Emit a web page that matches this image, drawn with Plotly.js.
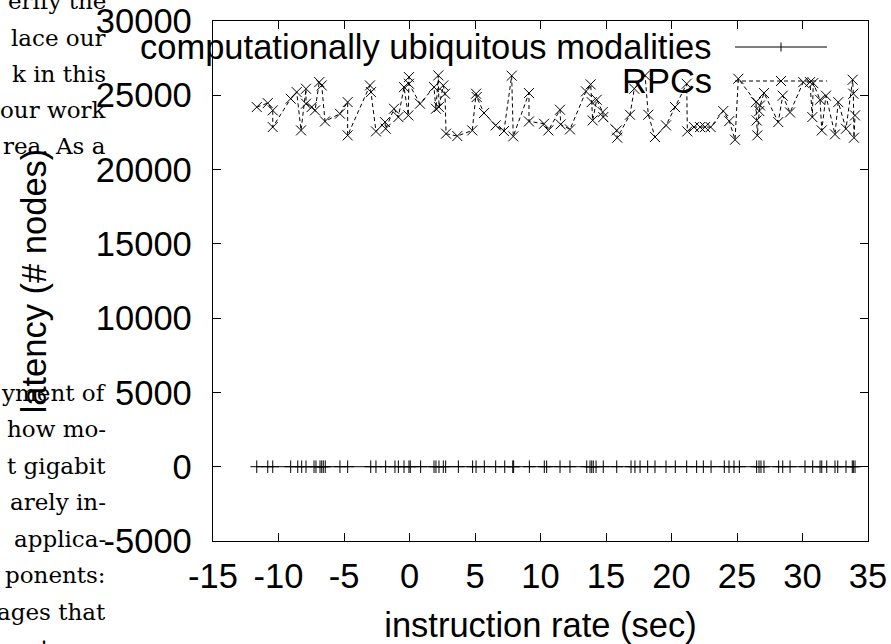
<!DOCTYPE html>
<html>
<head>
<meta charset="utf-8">
<script src="https://cdn.plot.ly/plotly-3.0.1.min.js"></script>
<style>
html,body{margin:0;padding:0;background:#fff;overflow:hidden;}
#chart{width:891px;height:644px;}
</style>
</head>
<body>
<div id="chart"></div>
<script>
// ---- data ----
const seriesNames = ["computationally ubiquitous modalities", "RPCs"];

const modalitiesX = [-11.66,-10.82,-10.44,-9.07,-8.53,-8.23,-7.90,-7.29,-7.14,-6.83,-6.70,-6.58,-6.43,-5.31,-4.72,
  -2.96,-2.56,-1.82,-1.11,-0.85,-0.42,-0.04,0.06,0.85,1.87,2.02,2.25,2.58,2.76,3.73,4.82,5.08,5.71,6.58,7.27,7.88,7.95,
  9.15,10.29,10.47,11.49,12.25,13.53,13.78,13.91,14.03,14.24,14.79,15.82,16.91,17.21,17.60,18.18,18.74,19.58,20.29,
  21.16,21.92,22.43,23.02,24.03,24.39,24.77,25.18,26.50,26.68,26.83,27.06,28.18,28.49,29.05,30.19,30.78,31.34,31.47,
  31.85,32.48,32.69,33.32,33.80,33.88,34.01];
const modalitiesY = [0,0,0,0,0,0,0,0,0,0,0,0,0,0,0,0,0,0,0,0,0,0,0,0,0,0,0,0,0,0,0,0,0,0,0,0,0,0,0,0,0,0,0,0,0,0,0,0,0,0,
  0,0,0,0,0,0,0,0,0,0,0,0,0,0,0,0,0,0,0,0,0,0,0,0,0,0,0,0,0,0,0,0];

const rpcX = [-11.66,-10.82,-10.44,-10.44,-9.07,-8.61,-8.28,-7.90,-7.90,-7.47,-7.21,-6.89,-6.70,-6.45,-5.31,-4.72,-4.72,
  -3.02,-2.94,-2.56,-1.87,-1.82,-1.18,-0.85,-0.42,-0.09,-0.04,-0.04,0.80,1.87,2.02,2.20,2.25,2.58,2.71,2.79,3.65,4.79,
  5.08,5.13,5.69,6.58,7.21,7.80,7.92,9.12,9.12,10.27,10.60,11.49,11.54,12.25,13.47,13.83,13.91,13.98,14.29,14.75,14.79,
  15.82,15.86,16.83,17.16,17.98,18.23,18.74,19.58,20.27,21.16,21.21,21.72,22.18,22.56,22.99,23.95,24.41,24.85,25.10,
  26.45,26.50,26.55,26.70,26.76,27.06,28.15,28.49,29.05,30.06,30.57,30.75,30.82,31.34,31.47,31.79,32.48,32.73,33.32,
  33.83,33.88,33.93,34.01];
const rpcY = [24206,24474,23983,22860,24770,25213,22636,25440,24433,24206,23983,25887,25663,23241,23760,24541,22300,
  25663,25213,22569,23196,22748,24094,23533,25551,23646,26224,25775,24433,25551,24094,26337,24206,25663,25105,22415,22255,22636,
  25105,24882,23804,22974,22593,26314,22233,25150,23241,23084,22636,24027,23040,22703,25262,25734,24541,23308,24698,23871,23533,
  22636,22143,23690,25440,26337,23690,22191,22974,24206,25775,22569,22860,22860,22860,22860,23938,23263,22008,26112,
  24541,23308,22300,23938,24318,25150,23196,24970,23846,25887,25887,23533,25820,24698,22636,24970,22370,24541,22748,
  26045,25105,22143,23646];

const xTicks = [-15,-10,-5,0,5,10,15,20,25,30,35];
const yTicks = [-5000,0,5000,10000,15000,20000,25000,30000];

// background page text (partial words of the surrounding paper)
const pageTextTop = ["erify the","lace our","k in this","our work","rea. As a"];
const pageTextBottom = ["yment of","how mo-","t gigabit","arely in-","applica-","ponents:","ages that","ents un-"];

// ---- layout helpers ----
const W = 891, H = 644;
const L = 213, R = 868, T = 21, B = 541;
const px2paperX = px => (px - L) / (R - L);
const px2paperY = py => (B - py) / (B - T);

const FONT = "Liberation Sans, Arial, Helvetica, sans-serif";
const SERIF = "DejaVu Serif, serif";
const FS = 34.5;

const traces = [
  {
    x: modalitiesX, y: modalitiesY, name: seriesNames[0], type: "scatter", mode: "lines+markers",
    line: {color: "#000", width: 1},
    marker: {symbol: "cross-thin", size: 9, color: "#000", line: {color: "#000", width: 1}},
    cliponaxis: true
  },
  {
    x: rpcX, y: rpcY, name: seriesNames[1], type: "scatter", mode: "lines+markers",
    line: {color: "#000", width: 1, dash: "4px,3px"},
    marker: {symbol: "x-thin", size: 10, color: "#000", line: {color: "#000", width: 1}},
    cliponaxis: true
  }
];

const annotations = [];
const topBase = [16, 53, 89, 125, 161];
pageTextTop.forEach((t, i) => annotations.push({
  xref: "paper", yref: "paper", x: px2paperX(108), y: px2paperY(topBase[i]),
  xanchor: "right", yanchor: "bottom", text: t, showarrow: false,
  font: {family: SERIF, size: 23, color: "#000"}
}));
const botBase = [408, 444, 481, 517, 554, 590, 627, 663];
pageTextBottom.forEach((t, i) => annotations.push({
  xref: "paper", yref: "paper", x: px2paperX(108), y: px2paperY(botBase[i]),
  xanchor: "right", yanchor: "bottom", text: t, showarrow: false,
  font: {family: SERIF, size: 23, color: "#000"}
}));

// legend (gnuplot style: text right-aligned, sample to the right)
const legY = [47, 81];
seriesNames.forEach((n, i) => annotations.push({
  xref: "paper", yref: "paper", x: px2paperX(714), y: px2paperY(legY[i]),
  xanchor: "right", yanchor: "middle", text: n, showarrow: false,
  font: {family: FONT, size: FS, color: "#000"}
}));

const shapes = [
  {type: "line", xref: "paper", yref: "paper", x0: px2paperX(735), x1: px2paperX(827),
   y0: px2paperY(legY[0]), y1: px2paperY(legY[0]), line: {color: "#000", width: 1}},
  {type: "line", xref: "paper", yref: "paper", x0: px2paperX(781), x1: px2paperX(781),
   y0: px2paperY(legY[0] - 4.5), y1: px2paperY(legY[0] + 4.5), line: {color: "#000", width: 1}},
  {type: "line", xref: "paper", yref: "paper", x0: px2paperX(735), x1: px2paperX(827),
   y0: px2paperY(legY[1]), y1: px2paperY(legY[1]), line: {color: "#000", width: 1, dash: "4px,3px"}},
  {type: "line", xref: "paper", yref: "paper", x0: px2paperX(776), x1: px2paperX(786),
   y0: px2paperY(legY[1] - 5), y1: px2paperY(legY[1] + 5), line: {color: "#000", width: 1}},
  {type: "line", xref: "paper", yref: "paper", x0: px2paperX(776), x1: px2paperX(786),
   y0: px2paperY(legY[1] + 5), y1: px2paperY(legY[1] - 5), line: {color: "#000", width: 1}}
];

const axisCommon = {
  showline: true, linecolor: "#000", linewidth: 1.3, mirror: "ticks",
  ticks: "inside", ticklen: 8, tickwidth: 1, tickcolor: "#000",
  showgrid: false, zeroline: false,
  tickfont: {family: FONT, size: FS, color: "#000"}
};

const layout = {
  width: W, height: H,
  margin: {l: L, r: W - R, t: T, b: H - B, pad: 0},
  paper_bgcolor: "rgba(0,0,0,0)", plot_bgcolor: "rgba(0,0,0,0)",
  showlegend: false,
  xaxis: Object.assign({}, axisCommon, {
    range: [-15, 35], tickvals: xTicks, ticktext: xTicks.map(String),
    ticklabelstandoff: 4,
    title: {text: "instruction rate (sec)", font: {family: FONT, size: FS, color: "#000"}, standoff: 27}
  }),
  yaxis: Object.assign({}, axisCommon, {
    range: [-5000, 30000], tickvals: yTicks, ticktext: yTicks.map(String),
    ticklabelstandoff: 13,
    title: {text: "latency (# nodes)", font: {family: FONT, size: FS, color: "#000"}, standoff: 38}
  }),
  annotations: annotations,
  shapes: shapes
};

Plotly.newPlot("chart", traces, layout, {displayModeBar: false, staticPlot: true});
</script>
</body>
</html>
